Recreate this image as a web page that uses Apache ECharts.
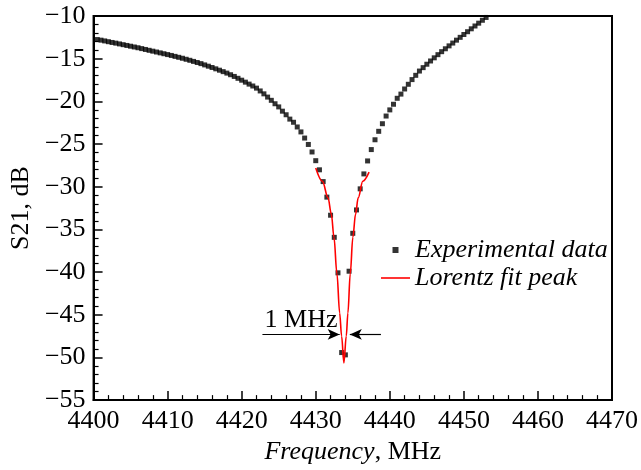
<!DOCTYPE html>
<html>
<head>
<meta charset="utf-8">
<script src="https://cdn.jsdelivr.net/npm/echarts@6/dist/echarts.min.js"></script>
<style>
  html, body { margin: 0; padding: 0; background: #fff; }
  #chart { width: 641px; height: 470px; }
</style>
</head>
<body>
<div id="chart"></div>
<script>
// measured sweep, MHz
const freq = [
  4400.5, 4401, 4401.5, 4402, 4402.5, 4403, 4403.5, 4404, 4404.5, 4405,
  4405.5, 4406, 4406.5, 4407, 4407.5, 4408, 4408.5, 4409, 4409.5, 4410,
  4410.5, 4411, 4411.5, 4412, 4412.5, 4413, 4413.5, 4414, 4414.5, 4415,
  4415.5, 4416, 4416.5, 4417, 4417.5, 4418, 4418.5, 4419, 4419.5, 4420,
  4420.5, 4421, 4421.5, 4422, 4422.5, 4423, 4423.5, 4424, 4424.5, 4425,
  4425.5, 4426, 4426.5, 4427, 4427.5, 4428, 4428.5, 4429, 4429.5, 4430,
  4430.5, 4431, 4431.5, 4432, 4432.5, 4433, 4433.5, 4434, 4434.5, 4435,
  4435.5, 4436, 4436.5, 4437, 4437.5, 4438, 4438.5, 4439, 4439.5, 4440,
  4440.5, 4441, 4441.5, 4442, 4442.5, 4443, 4443.5, 4444, 4444.5, 4445,
  4445.5, 4446, 4446.5, 4447, 4447.5, 4448, 4448.5, 4449, 4449.5, 4450,
  4450.5, 4451, 4451.5, 4452, 4452.5, 4453
];
// S21, dB
const s21 = [
  -12.76, -12.83, -12.92, -13.01, -13.10, -13.18, -13.27, -13.36, -13.45, -13.54,
  -13.63, -13.72, -13.82, -13.92, -14.02, -14.12, -14.22, -14.32, -14.42, -14.52,
  -14.62, -14.73, -14.84, -14.95, -15.07, -15.19, -15.32, -15.45, -15.58, -15.73,
  -15.88, -16.03, -16.19, -16.35, -16.52, -16.69, -16.88, -17.08, -17.30, -17.52,
  -17.75, -17.98, -18.20, -18.45, -18.78, -19.12, -19.50, -19.88, -20.28, -20.65,
  -21.15, -21.57, -22.08, -22.45, -23.00, -23.58, -24.30, -25.05, -25.93, -26.95,
  -28.02, -29.40, -31.22, -33.34, -35.93, -40.09, -49.43, -49.70, -39.90, -35.46,
  -32.72, -30.25, -28.50, -26.98, -25.65, -24.50, -23.51, -22.62, -21.72, -21.00,
  -20.34, -19.64, -19.15, -18.55, -18.00, -17.45, -16.95, -16.45, -16.05, -15.65,
  -15.27, -14.90, -14.53, -14.18, -13.84, -13.50, -13.17, -12.83, -12.50, -12.17,
  -11.84, -11.50, -11.17, -10.84, -10.50, -10.17
];

// Lorentz fit
const fitFreq = [
  4430.0, 4430.9, 4431.66, 4432.11, 4432.46, 4432.86, 4433.23, 4433.49, 4433.8,
  4434.12, 4434.34, 4434.66, 4435.01, 4435.37, 4435.73, 4436.35, 4437.2
];
const fitS21 = [
  -27.8, -29.36, -31.3, -33.23, -35.93, -40.17, -44.8, -47.5, -50.66,
  -47.5, -44.8, -40.17, -35.93, -33.23, -31.3, -29.36, -28.3
];

const xTicks = [4400, 4470, 10];
const yTicks = [-55, -10, 5];

// FWHM arrows [fromFreq, toFreq], level dB
const fwhmLeft = [4422.8, 4433.23];
const fwhmRight = [4438.8, 4434.6];
const fwhmLevel = -47.3;

const font = "'Liberation Serif', 'Times New Roman', serif";
const fs = 26;

const chart = echarts.init(document.getElementById('chart'), null, { renderer: 'canvas' });

chart.setOption({
  animation: false,
  grid: {
    left: 92, right: 27, top: 16, bottom: 66,
    show: true, borderColor: '#000', borderWidth: 2, backgroundColor: 'transparent'
  },
  legend: {
    orient: 'vertical',
    left: 376, top: 232,
    itemWidth: 29, itemHeight: 6, itemGap: 2,
    textStyle: { fontFamily: font, fontSize: fs, fontStyle: 'italic', color: '#000' },
    data: [
      { name: 'Experimental data', icon: 'path://M0,0H1V1H0Z' },
      { name: 'Lorentz fit peak', icon: 'path://M0,0H29V1.6H0Z' }
    ]
  },
  xAxis: {
    type: 'value',
    min: xTicks[0], max: xTicks[1], interval: xTicks[2],
    name: '{i|Frequency}, MHz',
    nameLocation: 'middle', nameGap: 38,
    nameTextStyle: {
      fontFamily: font, fontSize: fs, color: '#000',
      rich: { i: { fontFamily: font, fontSize: fs, fontStyle: 'italic', color: '#000' } }
    },
    axisLine: { lineStyle: { color: '#000', width: 2 } },
    axisTick: { inside: true, length: 9, lineStyle: { color: '#000', width: 1.5 } },
    minorTick: { show: true, splitNumber: 5, length: 5, lineStyle: { color: '#000', width: 1.2 } },
    splitLine: { show: false },
    axisLabel: { fontFamily: font, fontSize: fs, color: '#000', margin: 8, formatter: v => String(v) }
  },
  yAxis: {
    type: 'value',
    min: yTicks[0], max: yTicks[1], interval: yTicks[2],
    name: 'S21, dB',
    nameLocation: 'middle', nameGap: 52,
    nameTextStyle: { fontFamily: font, fontSize: fs, color: '#000' },
    axisLine: { lineStyle: { color: '#000', width: 2 } },
    axisTick: { inside: true, length: 9, lineStyle: { color: '#000', width: 1.5 } },
    minorTick: { show: true, splitNumber: 5, length: 5, lineStyle: { color: '#000', width: 1.2 } },
    splitLine: { show: false },
    axisLabel: {
      fontFamily: font, fontSize: fs, color: '#000', margin: 8,
      formatter: v => (v < 0 ? '\u2212' + Math.abs(v) : String(v))
    }
  },
  series: [
    {
      name: 'Experimental data',
      type: 'scatter',
      symbol: 'rect',
      symbolSize: 5,
      itemStyle: { color: '#000' },
      data: freq.map((f, i) => [f, s21[i]]),
      z: 3
    },
    {
      name: 'Lorentz fit peak',
      type: 'line',
      symbol: 'none',
      smooth: 0.35,
      smoothMonotone: 'x',
      lineStyle: { color: '#ff0000', width: 1.6 },
      itemStyle: { color: '#ff0000' },
      data: fitFreq.map((f, i) => [f, fitS21[i]]),
      z: 4,
      markLine: {
        silent: true,
        symbol: ['none', 'arrow'],
        symbolSize: [8, 12],
        lineStyle: { color: '#000', width: 1.2, type: 'solid' },
        label: { show: false },
        data: [
          [
            { coord: [fwhmLeft[0], fwhmLevel],
              label: { show: true, position: 'middle', formatter: '1 MHz', distance: 1,
                       fontFamily: font, fontSize: fs, color: '#000' } },
            { coord: [fwhmLeft[1], fwhmLevel] }
          ],
          [
            { coord: [fwhmRight[0], fwhmLevel] },
            { coord: [fwhmRight[1], fwhmLevel] }
          ]
        ]
      }
    }
  ]
});
</script>
</body>
</html>
